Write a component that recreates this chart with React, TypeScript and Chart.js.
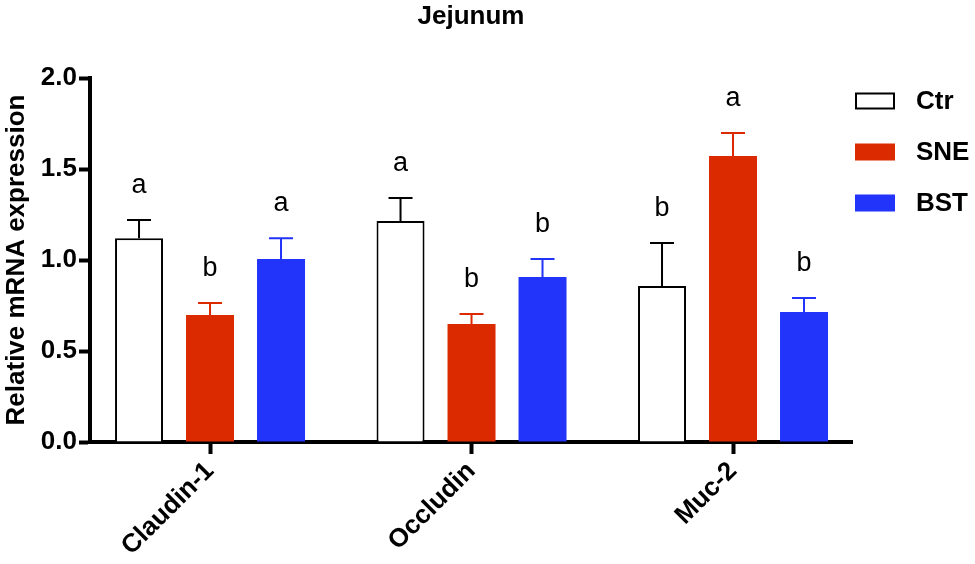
import { useEffect, useRef } from "react";
import { Chart, registerables } from "chart.js";

Chart.register(...registerables);

const categories = ["Claudin-1", "Occludin", "Muc-2"];
const seriesNames = ["Ctr", "SNE", "BST"];
const ctrValues = [1.12, 1.214, 0.857];
const ctrErrors = [0.1, 0.126, 0.236];
const sneValues = [0.698, 0.648, 1.571];
const sneErrors = [0.066, 0.055, 0.127];
const bstValues = [1.005, 0.907, 0.714];
const bstErrors = [0.115, 0.098, 0.077];
const ctrLetters = ["a", "a", "b"];
const sneLetters = ["b", "b", "a"];
const bstLetters = ["a", "b", "b"];
const yTickValues = [0, 0.5, 1.0, 1.5, 2.0];

const FONT = "'Liberation Sans', Arial, Helvetica, sans-serif";
const RED = "#DC2A00";
const BLUE = "#2233FA";

const errorsBySeries = [ctrErrors, sneErrors, bstErrors];
const lettersBySeries = [ctrLetters, sneLetters, bstLetters];
const lineColors = ["#000000", RED, BLUE];

const errorBarPlugin = {
  id: "errorBars",
  afterDatasetsDraw(chart: any) {
    const ctx = chart.ctx;
    const yScale = chart.scales.y;
    chart.data.datasets.forEach((ds: any, di: number) => {
      const meta = chart.getDatasetMeta(di);
      meta.data.forEach((el: any, i: number) => {
        const v = ds.data[i].y;
        const top = yScale.getPixelForValue(v + errorsBySeries[di][i]);
        ctx.save();
        ctx.strokeStyle = lineColors[di];
        ctx.lineWidth = 2;
        ctx.beginPath();
        ctx.moveTo(el.x, el.y);
        ctx.lineTo(el.x, top);
        ctx.moveTo(el.x - 12, top);
        ctx.lineTo(el.x + 12, top);
        ctx.stroke();
        ctx.fillStyle = "#000";
        ctx.font = `27px ${FONT}`;
        ctx.textAlign = "center";
        ctx.textBaseline = "alphabetic";
        ctx.fillText(lettersBySeries[di][i], el.x, top - 27);
        ctx.restore();
      });
    });
  },
};

const legendPlugin = {
  id: "customLegend",
  afterDraw(chart: any) {
    const ctx = chart.ctx;
    const area = chart.chartArea;
    const x0 = area.right + 3;
    chart.data.datasets.forEach((ds: any, i: number) => {
      const cy = area.top + 23 + i * 51;
      ctx.save();
      ctx.fillStyle = ds.backgroundColor;
      ctx.fillRect(x0, cy - 8.5, 40, 17);
      if (ds.borderWidth) {
        ctx.strokeStyle = ds.borderColor;
        ctx.lineWidth = 2;
        ctx.strokeRect(x0 + 1, cy - 7.5, 38, 15);
      }
      ctx.fillStyle = "#000";
      ctx.font = `bold 26px ${FONT}`;
      ctx.textAlign = "left";
      ctx.textBaseline = "middle";
      ctx.fillText(ds.label, x0 + 61, cy + 1);
      ctx.restore();
    });
  },
};

export default function App() {
  const canvasRef = useRef<HTMLCanvasElement | null>(null);

  useEffect(() => {
    if (!canvasRef.current) return;
    const toPoints = (vals: number[]) => vals.map((y, i) => ({ x: i, y }));
    const chart = new Chart(canvasRef.current, {
      type: "bar",
      data: {
        datasets: [
          {
            label: seriesNames[0],
            data: toPoints(ctrValues),
            backgroundColor: "#FFFFFF",
            borderColor: "#000000",
            borderWidth: 2,
          },
          {
            label: seriesNames[1],
            data: toPoints(sneValues),
            backgroundColor: RED,
            borderColor: RED,
            borderWidth: 0,
          },
          {
            label: seriesNames[2],
            data: toPoints(bstValues),
            backgroundColor: BLUE,
            borderColor: BLUE,
            borderWidth: 0,
          },
        ] as any,
      },
      options: {
        animation: false,
        responsive: true,
        maintainAspectRatio: false,
        datasets: {
          bar: {
            categoryPercentage: 0.8145,
            barPercentage: 0.676,
          },
        },
        layout: { padding: { left: 0, top: 0, right: 123, bottom: 0 } },
        plugins: {
          legend: { display: false },
          tooltip: { enabled: false },
          title: {
            display: true,
            text: "Jejunum",
            fullSize: false,
            color: "#000",
            font: { family: FONT, size: 26, weight: "bold" },
            padding: { top: 1, bottom: 45.8 },
          },
        },
        scales: {
          x: {
            type: "linear",
            min: -0.459,
            max: 2.455,
            offset: false,
            z: 1,
            afterBuildTicks: (scale: any) => {
              scale.ticks = categories.map((_, i) => ({ value: i }));
            },
            afterFit: (scale: any) => {
              scale.height = 122;
            },
            border: { display: true, color: "#000", width: 4 },
            grid: {
              display: true,
              offset: false,
              drawOnChartArea: false,
              drawTicks: true,
              tickLength: 12,
              tickWidth: 4,
              tickColor: "#000",
              color: "#000",
            },
            ticks: {
              autoSkip: false,
              minRotation: 45,
              maxRotation: 45,
              padding: 2,
              color: "#000",
              font: { family: FONT, size: 26, weight: "bold" },
              callback: (v: any) => categories[Number(v)] ?? "",
            },
          },
          y: {
            min: 0,
            max: 2,
            z: 1,
            afterBuildTicks: (scale: any) => {
              scale.ticks = yTickValues.map((value) => ({ value }));
            },
            afterFit: (scale: any) => {
              scale.width = 90;
            },
            border: { display: true, color: "#000", width: 4 },
            grid: {
              display: true,
              drawOnChartArea: false,
              drawTicks: true,
              tickLength: 11,
              tickWidth: 4,
              tickColor: "#000",
              color: "#000",
            },
            ticks: {
              padding: 2,
              color: "#000",
              font: { family: FONT, size: 26, weight: "bold" },
              callback: (v: any) => Number(v).toFixed(1),
            },
            title: {
              display: true,
              text: "Relative mRNA expression",
              color: "#000",
              font: { family: FONT, size: 26, weight: "bold" },
              padding: { top: 1, bottom: 0 },
            },
          },
        },
      },
      plugins: [errorBarPlugin, legendPlugin],
    } as any);
    return () => chart.destroy();
  }, []);

  return (
    <div style={{ position: "fixed", left: 0, top: 0, width: 975, height: 564, background: "#fff" }}>
      <canvas ref={canvasRef} />
    </div>
  );
}
